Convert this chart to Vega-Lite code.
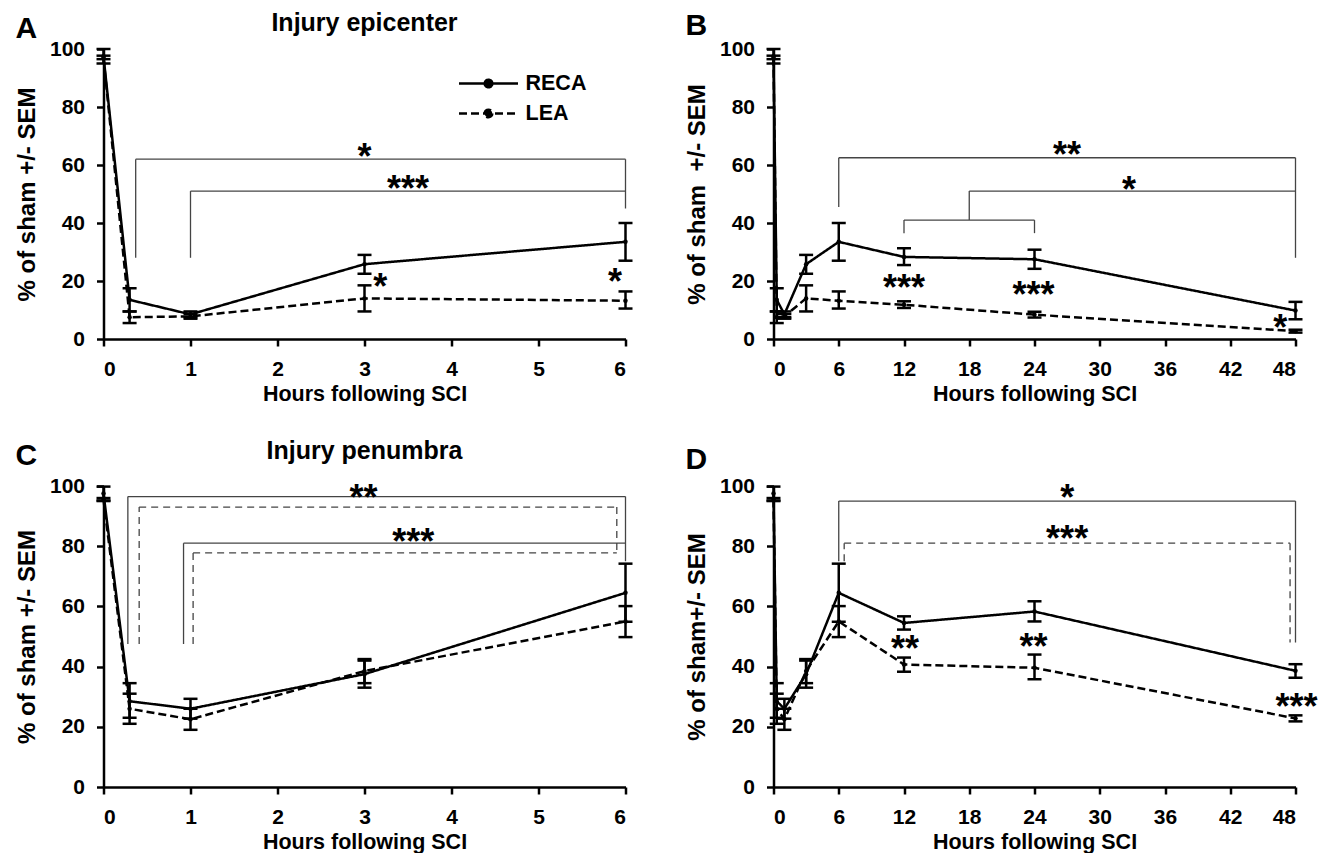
{
  "$schema": "https://vega.github.io/schema/vega-lite/v6.json",
  "background": "white",
  "padding": {"left": 14.5, "top": 10, "right": 0, "bottom": 0},
  "datasets": {
    "pts": [
      {"panel": "A", "series": "RECA", "x": 0, "y": 97.5, "lo": 95, "hi": 100},
      {"panel": "A", "series": "RECA", "x": 0.3, "y": 13.5, "lo": 9.5, "hi": 17.5},
      {"panel": "A", "series": "RECA", "x": 1, "y": 8.5, "lo": 7.5, "hi": 9.5},
      {"panel": "A", "series": "RECA", "x": 3, "y": 25.8, "lo": 22.5, "hi": 29},
      {"panel": "A", "series": "RECA", "x": 6, "y": 33.5, "lo": 27, "hi": 40},
      {"panel": "A", "series": "LEA", "x": 0, "y": 97, "lo": 96.5, "hi": 97.7},
      {"panel": "A", "series": "LEA", "x": 0.3, "y": 7.5, "lo": 5.5, "hi": 9.5},
      {"panel": "A", "series": "LEA", "x": 1, "y": 7.8, "lo": 7, "hi": 8.6},
      {"panel": "A", "series": "LEA", "x": 3, "y": 14, "lo": 9.5, "hi": 18.5},
      {"panel": "A", "series": "LEA", "x": 6, "y": 13.2, "lo": 10.5, "hi": 16.4},
      {"panel": "B", "series": "RECA", "x": 0, "y": 97.5, "lo": 95, "hi": 100},
      {"panel": "B", "series": "RECA", "x": 0.3, "y": 13.5, "lo": 9.5, "hi": 17.5},
      {"panel": "B", "series": "RECA", "x": 1, "y": 8.5, "lo": 7.5, "hi": 9.5},
      {"panel": "B", "series": "RECA", "x": 3, "y": 25.8, "lo": 22.5, "hi": 29},
      {"panel": "B", "series": "RECA", "x": 6, "y": 33.5, "lo": 27, "hi": 40},
      {"panel": "B", "series": "RECA", "x": 12, "y": 28.3, "lo": 25.5, "hi": 31.3},
      {"panel": "B", "series": "RECA", "x": 24, "y": 27.5, "lo": 24.2, "hi": 30.8},
      {"panel": "B", "series": "RECA", "x": 48, "y": 9.8, "lo": 6.8, "hi": 12.8},
      {"panel": "B", "series": "LEA", "x": 0, "y": 97, "lo": 96.5, "hi": 97.7},
      {"panel": "B", "series": "LEA", "x": 0.3, "y": 7.5, "lo": 5.5, "hi": 9.5},
      {"panel": "B", "series": "LEA", "x": 1, "y": 7.8, "lo": 7, "hi": 8.6},
      {"panel": "B", "series": "LEA", "x": 3, "y": 14, "lo": 9.5, "hi": 18.5},
      {"panel": "B", "series": "LEA", "x": 6, "y": 13.2, "lo": 10.5, "hi": 16.4},
      {"panel": "B", "series": "LEA", "x": 12, "y": 11.8, "lo": 10.7, "hi": 13},
      {"panel": "B", "series": "LEA", "x": 24, "y": 8.4, "lo": 7.4, "hi": 9.4},
      {"panel": "B", "series": "LEA", "x": 48, "y": 2.7, "lo": 2.2, "hi": 3.2},
      {"panel": "C", "series": "RECA", "x": 0, "y": 97.5, "lo": 95.2, "hi": 99.8},
      {"panel": "C", "series": "RECA", "x": 0.3, "y": 28.5, "lo": 23, "hi": 34.5},
      {"panel": "C", "series": "RECA", "x": 1, "y": 26, "lo": 22.7, "hi": 29.3},
      {"panel": "C", "series": "RECA", "x": 3, "y": 37.5, "lo": 33, "hi": 42},
      {"panel": "C", "series": "RECA", "x": 6, "y": 64.5, "lo": 54.9, "hi": 74.2},
      {"panel": "C", "series": "LEA", "x": 0, "y": 95.5, "lo": 95, "hi": 96},
      {"panel": "C", "series": "LEA", "x": 0.3, "y": 26, "lo": 21, "hi": 31},
      {"panel": "C", "series": "LEA", "x": 1, "y": 22.5, "lo": 19, "hi": 26},
      {"panel": "C", "series": "LEA", "x": 3, "y": 38.5, "lo": 34.5, "hi": 42.5},
      {"panel": "C", "series": "LEA", "x": 6, "y": 55, "lo": 49.8, "hi": 60.1},
      {"panel": "D", "series": "RECA", "x": 0, "y": 97.5, "lo": 95.2, "hi": 99.8},
      {"panel": "D", "series": "RECA", "x": 0.3, "y": 28.5, "lo": 23, "hi": 34.5},
      {"panel": "D", "series": "RECA", "x": 1, "y": 26, "lo": 22.7, "hi": 29.3},
      {"panel": "D", "series": "RECA", "x": 3, "y": 37.5, "lo": 33, "hi": 42},
      {"panel": "D", "series": "RECA", "x": 6, "y": 64.5, "lo": 54.9, "hi": 74.2},
      {"panel": "D", "series": "RECA", "x": 12, "y": 54.5, "lo": 52.3, "hi": 56.7},
      {"panel": "D", "series": "RECA", "x": 24, "y": 58.3, "lo": 55, "hi": 61.7},
      {"panel": "D", "series": "RECA", "x": 48, "y": 38.6, "lo": 36.3, "hi": 40.8},
      {"panel": "D", "series": "LEA", "x": 0, "y": 95.5, "lo": 95, "hi": 96},
      {"panel": "D", "series": "LEA", "x": 0.3, "y": 26, "lo": 21, "hi": 31},
      {"panel": "D", "series": "LEA", "x": 1, "y": 22.5, "lo": 19, "hi": 26},
      {"panel": "D", "series": "LEA", "x": 3, "y": 38.5, "lo": 34.5, "hi": 42.5},
      {"panel": "D", "series": "LEA", "x": 6, "y": 55, "lo": 49.8, "hi": 60.1},
      {"panel": "D", "series": "LEA", "x": 12, "y": 40.7, "lo": 38.3, "hi": 43},
      {"panel": "D", "series": "LEA", "x": 24, "y": 39.6, "lo": 35.8, "hi": 44},
      {"panel": "D", "series": "LEA", "x": 48, "y": 22.8, "lo": 21.8, "hi": 23.8}
    ],
    "brk": [
      {"panel": "A", "style": "solid", "x": 0.37, "x2": 0.37, "y": 28, "y2": 62},
      {"panel": "A", "style": "solid", "x": 0.37, "x2": 6, "y": 62, "y2": 62},
      {"panel": "A", "style": "solid", "x": 6, "x2": 6, "y": 62, "y2": 45},
      {"panel": "A", "style": "solid", "x": 1, "x2": 1, "y": 28, "y2": 51},
      {"panel": "A", "style": "solid", "x": 1, "x2": 6, "y": 51, "y2": 51},
      {"panel": "B", "style": "solid", "x": 6, "x2": 6, "y": 45.5, "y2": 62.5},
      {"panel": "B", "style": "solid", "x": 6, "x2": 48, "y": 62.5, "y2": 62.5},
      {"panel": "B", "style": "solid", "x": 48, "x2": 48, "y": 62.5, "y2": 28},
      {"panel": "B", "style": "solid", "x": 18, "x2": 48, "y": 51, "y2": 51},
      {"panel": "B", "style": "solid", "x": 18, "x2": 18, "y": 51, "y2": 41},
      {"panel": "B", "style": "solid", "x": 12, "x2": 24, "y": 41, "y2": 41},
      {"panel": "B", "style": "solid", "x": 12, "x2": 12, "y": 41, "y2": 36.5},
      {"panel": "B", "style": "solid", "x": 24, "x2": 24, "y": 41, "y2": 36.5},
      {"panel": "C", "style": "solid", "x": 0.28, "x2": 0.28, "y": 47.5, "y2": 96.5},
      {"panel": "C", "style": "solid", "x": 0.28, "x2": 6, "y": 96.5, "y2": 96.5},
      {"panel": "C", "style": "solid", "x": 6, "x2": 6, "y": 96.5, "y2": 75},
      {"panel": "C", "style": "solid", "x": 0.92, "x2": 0.92, "y": 47.5, "y2": 81},
      {"panel": "C", "style": "solid", "x": 0.92, "x2": 6, "y": 81, "y2": 81},
      {"panel": "C", "style": "dashed", "x": 0.41, "x2": 0.41, "y": 47.5, "y2": 93},
      {"panel": "C", "style": "dashed", "x": 0.41, "x2": 5.9, "y": 93, "y2": 93},
      {"panel": "C", "style": "dashed", "x": 5.9, "x2": 5.9, "y": 93, "y2": 78},
      {"panel": "C", "style": "dashed", "x": 1.03, "x2": 1.03, "y": 47.5, "y2": 77.8},
      {"panel": "C", "style": "dashed", "x": 1.03, "x2": 5.9, "y": 77.8, "y2": 77.8},
      {"panel": "D", "style": "solid", "x": 6, "x2": 6, "y": 75, "y2": 95},
      {"panel": "D", "style": "solid", "x": 6, "x2": 48, "y": 95, "y2": 95},
      {"panel": "D", "style": "solid", "x": 48, "x2": 48, "y": 95, "y2": 48},
      {"panel": "D", "style": "dashed", "x": 6.5, "x2": 6.5, "y": 75, "y2": 81},
      {"panel": "D", "style": "dashed", "x": 6.5, "x2": 47.5, "y": 81, "y2": 81},
      {"panel": "D", "style": "dashed", "x": 47.5, "x2": 47.5, "y": 81, "y2": 48}
    ],
    "sig": [
      {"panel": "A", "x": 3, "y": 65.3, "label": "*"},
      {"panel": "A", "x": 3.5, "y": 54.4, "label": "***"},
      {"panel": "A", "x": 3.18, "y": 20.5, "label": "*"},
      {"panel": "A", "x": 5.88, "y": 22.2, "label": "*"},
      {"panel": "B", "x": 27, "y": 65.9, "label": "**"},
      {"panel": "B", "x": 32.7, "y": 54, "label": "*"},
      {"panel": "B", "x": 12, "y": 20.1, "label": "***"},
      {"panel": "B", "x": 23.9, "y": 17.9, "label": "***"},
      {"panel": "B", "x": 46.6, "y": 6.4, "label": "*"},
      {"panel": "C", "x": 2.99, "y": 98.4, "label": "**"},
      {"panel": "C", "x": 3.56, "y": 84, "label": "***"},
      {"panel": "D", "x": 27, "y": 98.6, "label": "*"},
      {"panel": "D", "x": 27, "y": 84.8, "label": "***"},
      {"panel": "D", "x": 12.1, "y": 48.5, "label": "**"},
      {"panel": "D", "x": 23.9, "y": 49, "label": "**"},
      {"panel": "D", "x": 48.1, "y": 29.2, "label": "***"}
    ],
    "ttl": [
      {"panel": "A", "x": 3, "y": 109, "label": "Injury epicenter"},
      {"panel": "C", "x": 3, "y": 111.6, "label": "Injury penumbra"}
    ]
  },
  "resolve": {"scale": {"strokeDash": "independent"}, "legend": {"strokeDash": "independent"}},
  "spacing": 34,
  "vconcat": [
    {
      "spacing": 52,
      "resolve": {"scale": {"strokeDash": "independent"}, "legend": {"strokeDash": "independent"}},
      "hconcat": [
        {
          "title": {"text": "A", "offset": -33},
          "width": 522, "height": 290,
          "encoding": {
            "x": {"field": "x", "type": "quantitative", "scale": {"domain": [0, 6], "nice": false}, "axis": {"values": [0, 1, 2, 3, 4, 5, 6]}, "title": "Hours following SCI"},
            "y": {"field": "y", "type": "quantitative", "scale": {"domain": [0, 100], "nice": false}, "axis": {"values": [0, 20, 40, 60, 80, 100]}, "title": "% of sham +/- SEM"}
          },
          "layer": [
            {"data": {"name": "brk"}, "transform": [{"filter": "datum.panel === 'A'"}], "mark": {"type": "rule", "color": "#444", "strokeWidth": 1.3}, "encoding": {"x2": {"field": "x2"}, "y2": {"field": "y2"}}},
            {"data": {"name": "pts"}, "transform": [{"filter": "datum.panel === 'A'"}], "mark": {"type": "errorbar", "color": "black", "opacity": 1, "rule": {"strokeWidth": 2.5, "color": "black", "opacity": 1}, "ticks": {"size": 14, "thickness": 2.5, "color": "black", "opacity": 1}}, "encoding": {"y": {"field": "lo", "type": "quantitative", "title": "% of sham +/- SEM"}, "y2": {"field": "hi"}, "detail": {"field": "series"}}},
            {"data": {"name": "pts"}, "transform": [{"filter": "datum.panel === 'A'"}], "mark": {"type": "line", "color": "black", "strokeWidth": 2.5},
             "encoding": {"strokeDash": {"field": "series", "type": "nominal", "scale": {"domain": ["RECA", "LEA"], "range": [[1, 0], [8, 4]]},
               "legend": {"orient": "none", "legendX": 373.5, "legendY": 23, "title": null, "padding": 0, "symbolType": "M-2.95,0H2.95M0.38,0A0.38,0.38,0,1,1,-0.38,0A0.38,0.38,0,1,1,0.38,0", "symbolSize": 400, "symbolStrokeWidth": 2.5, "symbolStrokeColor": "black", "symbolFillColor": "black", "labelFontSize": 21.5, "labelFontWeight": "bold", "labelColor": "black", "labelOffset": 25.5, "rowPadding": 8}}}},
            {"data": {"name": "pts"}, "transform": [{"filter": "datum.panel === 'A'"}], "mark": {"type": "point", "filled": true, "size": 20, "color": "black", "opacity": 1}},
            {"data": {"name": "sig"}, "transform": [{"filter": "datum.panel === 'A'"}], "mark": {"type": "text", "fontSize": 36, "fontWeight": "bold", "baseline": "middle", "dy": 8.5, "color": "black"}, "encoding": {"text": {"field": "label"}}},
            {"data": {"name": "ttl"}, "transform": [{"filter": "datum.panel === 'A'"}], "mark": {"type": "text", "fontSize": 25, "fontWeight": "bold", "baseline": "middle", "color": "black"}, "encoding": {"text": {"field": "label"}}}
          ]
        },
        {
          "title": {"text": "B", "offset": -3},
          "width": 522, "height": 290,
          "encoding": {
            "x": {"field": "x", "type": "quantitative", "scale": {"domain": [0, 48], "nice": false}, "axis": {"values": [0, 6, 12, 18, 24, 30, 36, 42, 48]}, "title": "Hours following SCI"},
            "y": {"field": "y", "type": "quantitative", "scale": {"domain": [0, 100], "nice": false}, "axis": {"values": [0, 20, 40, 60, 80, 100]}, "title": "% of sham\u00a0 +/- SEM"}
          },
          "layer": [
            {"data": {"name": "brk"}, "transform": [{"filter": "datum.panel === 'B'"}], "mark": {"type": "rule", "color": "#444", "strokeWidth": 1.3}, "encoding": {"x2": {"field": "x2"}, "y2": {"field": "y2"}}},
            {"data": {"name": "pts"}, "transform": [{"filter": "datum.panel === 'B'"}], "mark": {"type": "errorbar", "color": "black", "opacity": 1, "rule": {"strokeWidth": 2.5, "color": "black", "opacity": 1}, "ticks": {"size": 14, "thickness": 2.5, "color": "black", "opacity": 1}}, "encoding": {"y": {"field": "lo", "type": "quantitative", "title": "% of sham\u00a0 +/- SEM"}, "y2": {"field": "hi"}, "detail": {"field": "series"}}},
            {"data": {"name": "pts"}, "transform": [{"filter": "datum.panel === 'B'"}], "mark": {"type": "line", "color": "black", "strokeWidth": 2.5},
             "encoding": {"strokeDash": {"field": "series", "type": "nominal", "scale": {"domain": ["RECA", "LEA"], "range": [[1, 0], [8, 4]]}, "legend": null}}},
            {"data": {"name": "pts"}, "transform": [{"filter": "datum.panel === 'B'"}], "mark": {"type": "point", "filled": true, "size": 20, "color": "black", "opacity": 1}},
            {"data": {"name": "sig"}, "transform": [{"filter": "datum.panel === 'B'"}], "mark": {"type": "text", "fontSize": 36, "fontWeight": "bold", "baseline": "middle", "dy": 8.5, "color": "black"}, "encoding": {"text": {"field": "label"}}}
          ]
        }
      ]
    },
    {
      "spacing": 52,
      "resolve": {"scale": {"strokeDash": "independent"}, "legend": {"strokeDash": "independent"}},
      "hconcat": [
        {
          "title": {"text": "C", "offset": -32},
          "width": 522, "height": 301,
          "encoding": {
            "x": {"field": "x", "type": "quantitative", "scale": {"domain": [0, 6], "nice": false}, "axis": {"values": [0, 1, 2, 3, 4, 5, 6]}, "title": "Hours following SCI"},
            "y": {"field": "y", "type": "quantitative", "scale": {"domain": [0, 100], "nice": false}, "axis": {"values": [0, 20, 40, 60, 80, 100]}, "title": "% of sham +/- SEM"}
          },
          "layer": [
            {"data": {"name": "brk"}, "transform": [{"filter": "datum.panel === 'C' && datum.style === 'solid'"}], "mark": {"type": "rule", "color": "#444", "strokeWidth": 1.3}, "encoding": {"x2": {"field": "x2"}, "y2": {"field": "y2"}}},
            {"data": {"name": "brk"}, "transform": [{"filter": "datum.panel === 'C' && datum.style === 'dashed'"}], "mark": {"type": "rule", "color": "#444", "strokeWidth": 1.3, "strokeDash": [7, 5]}, "encoding": {"x2": {"field": "x2"}, "y2": {"field": "y2"}}},
            {"data": {"name": "pts"}, "transform": [{"filter": "datum.panel === 'C'"}], "mark": {"type": "errorbar", "color": "black", "opacity": 1, "rule": {"strokeWidth": 2.5, "color": "black", "opacity": 1}, "ticks": {"size": 14, "thickness": 2.5, "color": "black", "opacity": 1}}, "encoding": {"y": {"field": "lo", "type": "quantitative", "title": "% of sham +/- SEM"}, "y2": {"field": "hi"}, "detail": {"field": "series"}}},
            {"data": {"name": "pts"}, "transform": [{"filter": "datum.panel === 'C'"}], "mark": {"type": "line", "color": "black", "strokeWidth": 2.5},
             "encoding": {"strokeDash": {"field": "series", "type": "nominal", "scale": {"domain": ["RECA", "LEA"], "range": [[1, 0], [8, 4]]}, "legend": null}}},
            {"data": {"name": "pts"}, "transform": [{"filter": "datum.panel === 'C'"}], "mark": {"type": "point", "filled": true, "size": 20, "color": "black", "opacity": 1}},
            {"data": {"name": "sig"}, "transform": [{"filter": "datum.panel === 'C'"}], "mark": {"type": "text", "fontSize": 36, "fontWeight": "bold", "baseline": "middle", "dy": 8.5, "color": "black"}, "encoding": {"text": {"field": "label"}}},
            {"data": {"name": "ttl"}, "transform": [{"filter": "datum.panel === 'C'"}], "mark": {"type": "text", "fontSize": 25, "fontWeight": "bold", "baseline": "middle", "color": "black"}, "encoding": {"text": {"field": "label"}}}
          ]
        },
        {
          "title": {"text": "D", "offset": 0},
          "width": 522, "height": 301,
          "encoding": {
            "x": {"field": "x", "type": "quantitative", "scale": {"domain": [0, 48], "nice": false}, "axis": {"values": [0, 6, 12, 18, 24, 30, 36, 42, 48]}, "title": "Hours following SCI"},
            "y": {"field": "y", "type": "quantitative", "scale": {"domain": [0, 100], "nice": false}, "axis": {"values": [0, 20, 40, 60, 80, 100]}, "title": "% of sham+/- SEM"}
          },
          "layer": [
            {"data": {"name": "brk"}, "transform": [{"filter": "datum.panel === 'D' && datum.style === 'solid'"}], "mark": {"type": "rule", "color": "#444", "strokeWidth": 1.3}, "encoding": {"x2": {"field": "x2"}, "y2": {"field": "y2"}}},
            {"data": {"name": "brk"}, "transform": [{"filter": "datum.panel === 'D' && datum.style === 'dashed'"}], "mark": {"type": "rule", "color": "#444", "strokeWidth": 1.3, "strokeDash": [7, 5]}, "encoding": {"x2": {"field": "x2"}, "y2": {"field": "y2"}}},
            {"data": {"name": "pts"}, "transform": [{"filter": "datum.panel === 'D'"}], "mark": {"type": "errorbar", "color": "black", "opacity": 1, "rule": {"strokeWidth": 2.5, "color": "black", "opacity": 1}, "ticks": {"size": 14, "thickness": 2.5, "color": "black", "opacity": 1}}, "encoding": {"y": {"field": "lo", "type": "quantitative", "title": "% of sham+/- SEM"}, "y2": {"field": "hi"}, "detail": {"field": "series"}}},
            {"data": {"name": "pts"}, "transform": [{"filter": "datum.panel === 'D'"}], "mark": {"type": "line", "color": "black", "strokeWidth": 2.5},
             "encoding": {"strokeDash": {"field": "series", "type": "nominal", "scale": {"domain": ["RECA", "LEA"], "range": [[1, 0], [8, 4]]}, "legend": null}}},
            {"data": {"name": "pts"}, "transform": [{"filter": "datum.panel === 'D'"}], "mark": {"type": "point", "filled": true, "size": 20, "color": "black", "opacity": 1}},
            {"data": {"name": "sig"}, "transform": [{"filter": "datum.panel === 'D'"}], "mark": {"type": "text", "fontSize": 36, "fontWeight": "bold", "baseline": "middle", "dy": 8.5, "color": "black"}, "encoding": {"text": {"field": "label"}}}
          ]
        }
      ]
    }
  ],
  "config": {
    "font": "Liberation Sans",
    "view": {"stroke": null},
    "axis": {"domainColor": "black", "domainWidth": 2.5, "tickColor": "black", "tickWidth": 2.5, "tickSize": 7, "labelFontSize": 21, "labelFontWeight": "bold", "labelColor": "black", "titleFontWeight": "bold", "titleColor": "black", "grid": false, "labelPadding": 12},
    "axisY": {"titlePadding": 10, "titleFontSize": 24},
    "axisX": {"titlePadding": 4, "titleFontSize": 21.5},
    "title": {"anchor": "start", "frame": "bounds", "fontSize": 30, "fontWeight": "bold", "color": "black"}
  }
}
